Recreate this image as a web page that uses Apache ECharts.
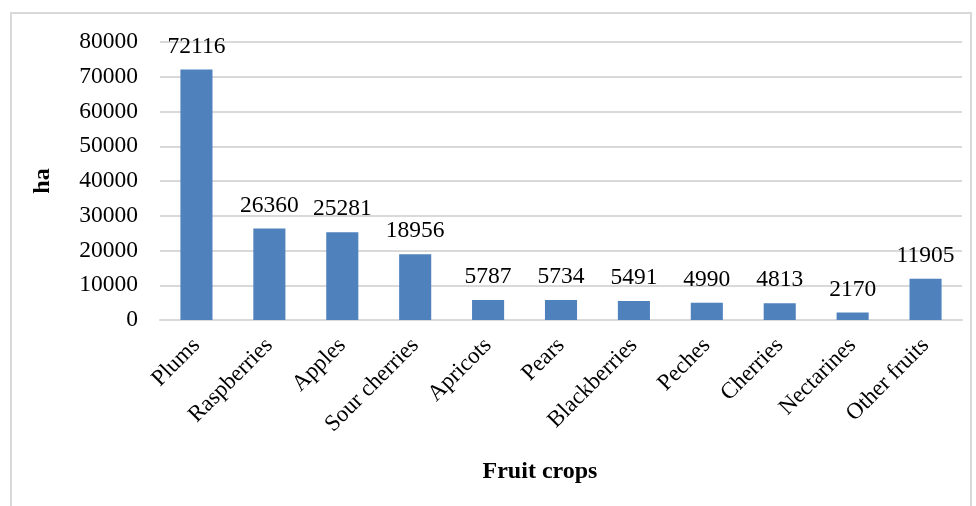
<!DOCTYPE html>
<html>
<head>
<meta charset="utf-8">
<script src="https://cdn.jsdelivr.net/npm/echarts@6/dist/echarts.min.js"></script>
<style>
  html, body { margin: 0; padding: 0; background: #fff; }
  #chart { width: 976px; height: 506px; }
</style>
</head>
<body>
<div id="chart"></div>
<script>
// 数据
var categories = ['Plums', 'Raspberries', 'Apples', 'Sour cherries', 'Apricots', 'Pears',
  'Blackberries', 'Peches', 'Cherries', 'Nectarines', 'Other fruits'];
var areaHa = [72116, 26360, 25281, 18956, 5787, 5734, 5491, 4990, 4813, 2170, 11905];

var font = '"Liberation Serif", "Times New Roman", serif';

var myChart = echarts.init(document.getElementById('chart'));

var option = {
  backgroundColor: '#fff',
  animation: false,
  textStyle: { fontFamily: font, color: '#000' },
  graphic: [
    {
      type: 'rect',
      shape: { x: 11, y: 13, width: 960, height: 520 },
      style: { fill: 'none', stroke: '#d9d9d9', lineWidth: 2 },
      silent: true
    }
  ],
  grid: { left: 160, right: 14, top: 42, bottom: 186 },
  xAxis: {
    type: 'category',
    data: categories,
    name: 'Fruit crops',
    nameLocation: 'middle',
    nameGap: 140,
    nameTextStyle: {
      fontFamily: font, fontSize: 24, fontWeight: 'bold', color: '#000',
      padding: [0, 42, 0, 0]
    },
    axisLine: { lineStyle: { color: '#d9d9d9', width: 2 } },
    axisTick: { show: false },
    axisLabel: {
      interval: 0,
      rotate: 45,
      margin: 22,
      fontFamily: font,
      fontSize: 23,
      color: '#000'
    }
  },
  yAxis: {
    type: 'value',
    min: 0,
    max: 80000,
    interval: 10000,
    name: 'ha',
    nameLocation: 'middle',
    nameGap: 105,
    nameRotate: 90,
    nameTextStyle: { fontFamily: font, fontSize: 24, fontWeight: 'bold', color: '#000' },
    axisLine: { show: false },
    axisTick: { show: false },
    axisLabel: {
      fontFamily: font, fontSize: 23.5, color: '#000', margin: 22,
      formatter: function (v) { return String(v); }
    },
    splitLine: { lineStyle: { color: '#d9d9d9', width: 2 } }
  },
  series: [
    {
      type: 'bar',
      data: areaHa,
      barWidth: '44%',
      itemStyle: { color: '#4f81bd' },
      label: {
        show: true,
        position: 'top',
        distance: 11,
        fontFamily: font,
        fontSize: 23.5,
        color: '#000'
      }
    }
  ]
};

myChart.setOption(option);
</script>
</body>
</html>
